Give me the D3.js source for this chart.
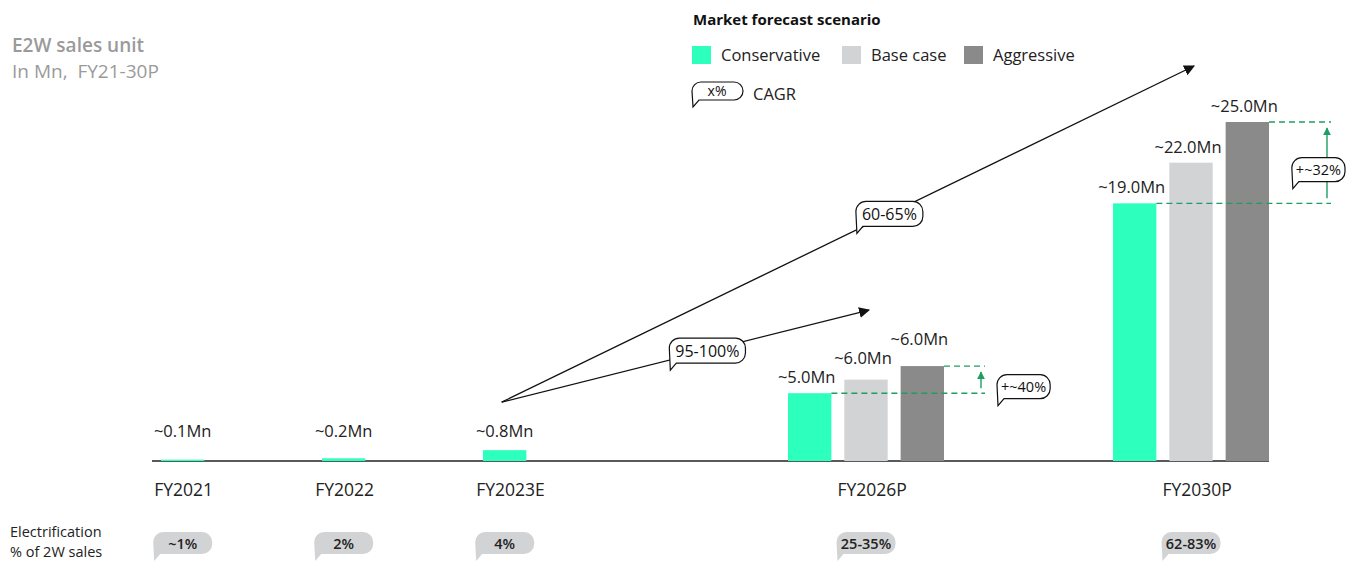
<!DOCTYPE html>
<html>
<head>
<meta charset="utf-8">
<script src="https://cdn.jsdelivr.net/npm/d3@7"></script>
<style>
  body { margin: 0; background: #fff; }
  svg { display: block; font-family: "Open Sans", sans-serif; }
</style>
</head>
<body>
<script>
// data
var categories = ["FY2021", "FY2022", "FY2023E", "FY2026P", "FY2030P"];
var fiscalYears = [2021, 2022, 2023, 2026, 2030];
var seriesNames = ["Conservative", "Base case", "Aggressive"];
var conservative = [0.1, 0.2, 0.8, 5, 19];
var baseCase = [null, null, null, 6, 22];
var aggressive = [null, null, null, 7, 25];
var conservativeLabels = ["~0.1Mn", "~0.2Mn", "~0.8Mn", "~5.0Mn", "~19.0Mn"];
var baseCaseLabels = [null, null, null, "~6.0Mn", "~22.0Mn"];
var aggressiveLabels = [null, null, null, "~6.0Mn", "~25.0Mn"];
var electrification = ["~1%", "2%", "4%", "25-35%", "62-83%"];
var cagrFrom = ["FY2023E", "FY2023E"];
var cagrTo = ["FY2026P", "FY2030P"];
var cagrLabels = ["95-100%", "60-65%"];
var upliftCats = ["FY2026P", "FY2030P"];
var upliftLabels = ["+~40%", "+~32%"];

var width = 1347, height = 561;
var colors = ["#2dffbd", "#d2d3d5", "#8a8a8a"];
var green = "#1f9e63";

var svg = d3.select("body").append("svg")
    .attr("width", width)
    .attr("height", height);

var defs = svg.append("defs");
defs.append("marker").attr("id", "blackHead")
    .attr("viewBox", "0 0 10 10").attr("refX", 9).attr("refY", 5)
    .attr("markerWidth", 11).attr("markerHeight", 11).attr("markerUnits", "userSpaceOnUse")
    .attr("orient", "auto")
  .append("path").attr("d", "M0,0L10,5L0,10Z").attr("fill", "#111");
defs.append("marker").attr("id", "greenHead")
    .attr("viewBox", "0 0 10 10").attr("refX", 9).attr("refY", 5)
    .attr("markerWidth", 8).attr("markerHeight", 8).attr("markerUnits", "userSpaceOnUse")
    .attr("orient", "auto")
  .append("path").attr("d", "M0,0L10,5L0,10Z").attr("fill", green);

// scales
var x = d3.scaleLinear()
    .domain([2021, 2023, 2026, 2030])
    .range([161, 483, 788, 1113]);
var inner = d3.scaleBand()
    .domain(seriesNames)
    .range([0, 156])
    .paddingInner(0.23);
var y = d3.scaleLinear()
    .domain([0, 25])
    .range([461, 122]);

var seriesValues = [conservative, baseCase, aggressive];
var seriesLabels = [conservativeLabels, baseCaseLabels, aggressiveLabels];

// one row per category with its bars
var groups = categories.map(function (c, i) {
  var bars = [];
  seriesNames.forEach(function (s, j) {
    var v = seriesValues[j][i];
    if (v != null) {
      bars.push({ series: s, idx: j, value: v, label: seriesLabels[j][i],
                  x0: x(fiscalYears[i]) + inner(s) });
    }
  });
  var left = bars[0].x0, right = bars[bars.length - 1].x0 + inner.bandwidth();
  return { cat: c, bars: bars, left: left, right: right, center: (left + right) / 2,
           top: d3.min(bars, function (b) { return y(b.value); }) };
});
var byCat = {};
groups.forEach(function (g) { byCat[g.cat] = g; });

// bubble with tail at bottom-left
function bubblePath(x0, y0, w, h) {
  var r = Math.min(10, h / 2), x1 = x0 + w, y1 = y0 + h;
  return "M" + x0 + "," + (y0 + r) +
    "A" + r + "," + r + " 0 0 1 " + (x0 + r) + "," + y0 +
    "H" + (x1 - r) +
    "A" + r + "," + r + " 0 0 1 " + x1 + "," + (y0 + r) +
    "V" + (y1 - r) +
    "A" + r + "," + r + " 0 0 1 " + (x1 - r) + "," + y1 +
    "H" + (x0 + 7) +
    "L" + (x0 + 1) + "," + (y1 + 7) +
    "Z";
}

// title
var title = svg.append("g").attr("fill", "#9a9a9a").style("font-size", "19px");
title.append("text").attr("x", 12).attr("y", 52).attr("font-weight", 600).text("E2W sales unit");
title.append("text").attr("x", 12).attr("y", 78).style("white-space", "pre").text("In Mn,  FY21-30P");

// legend
var legend = svg.append("g");
legend.append("text").attr("x", 693).attr("y", 25)
    .attr("font-weight", 700).style("font-size", "15px").attr("fill", "#111")
    .text("Market forecast scenario");
var legX = [692, 842, 964];
seriesNames.forEach(function (s, i) {
  legend.append("rect").attr("x", legX[i]).attr("y", 46).attr("width", 19).attr("height", 18)
      .attr("fill", colors[i]);
  legend.append("text").attr("x", legX[i] + 29).attr("y", 61)
      .style("font-size", "16.5px").attr("fill", "#222").text(s);
});
legend.append("path").attr("d", bubblePath(692, 82, 51, 18))
    .attr("fill", "#fff").attr("stroke", "#111").attr("stroke-width", 1.2);
legend.append("text").attr("x", 717).attr("y", 96).attr("text-anchor", "middle")
    .style("font-size", "14px").attr("fill", "#111").text("x%");
legend.append("text").attr("x", 753).attr("y", 100)
    .style("font-size", "16.5px").attr("fill", "#222").text("CAGR");

// axis line
svg.append("line")
    .attr("x1", 152).attr("x2", byCat["FY2030P"].right)
    .attr("y1", y(0)).attr("y2", y(0))
    .attr("stroke", "#222").attr("stroke-width", 1.5);

// bars
var gBars = svg.append("g");
groups.forEach(function (g) {
  gBars.selectAll(null)
      .data(g.bars)
      .enter().append("rect")
      .attr("x", function (d) { return d.x0; })
      .attr("y", function (d) { return y(d.value); })
      .attr("width", inner.bandwidth())
      .attr("height", function (d) { return y(0) - y(d.value); })
      .attr("fill", function (d) { return colors[d.idx]; });
  // value labels, stacked so they don't collide
  var prev = Infinity;
  g.bars.forEach(function (d) {
    var ly = Math.min(y(d.value) - 10, 437, prev - 19);
    prev = ly;
    gBars.append("text")
        .attr("x", d.x0 + inner.bandwidth() / 2 - (g.bars.length > 1 ? 3 : 0))
        .attr("y", ly)
        .attr("text-anchor", "middle")
        .style("font-size", "16.5px").attr("fill", "#222")
        .text(d.label);
  });
});

// category labels + electrification pills
var pillW = 59;
groups.forEach(function (g, i) {
  var px = g.center - pillW / 2;
  svg.append("text").attr("x", px + 1).attr("y", 496)
      .style("font-size", "17.5px").attr("fill", "#222").text(g.cat);
  svg.append("path").attr("d", bubblePath(px, 532, pillW, 22)).attr("fill", "#d2d3d5");
  svg.append("text").attr("x", g.center).attr("y", 548.5).attr("text-anchor", "middle")
      .attr("font-weight", 600).style("font-size", "14.5px").attr("fill", "#222")
      .text(electrification[i]);
});
var elec = svg.append("g").style("font-size", "14.5px").attr("fill", "#222");
elec.append("text").attr("x", 10).attr("y", 537).text("Electrification");
elec.append("text").attr("x", 10).attr("y", 557).text("% of 2W sales");

// CAGR arrows
cagrLabels.forEach(function (lab, i) {
  var a = byCat[cagrFrom[i]], b = byCat[cagrTo[i]];
  var x1 = a.center - 3, y1 = a.top - 48;
  var x2 = b.center + 3, y2 = b.top - 56;
  svg.append("line").attr("x1", x1).attr("y1", y1).attr("x2", x2).attr("y2", y2)
      .attr("stroke", "#111").attr("stroke-width", 1.3)
      .attr("marker-end", "url(#blackHead)");
  var t = 0.56, cx = x1 + (x2 - x1) * t, cy = y1 + (y2 - y1) * t;
  var txt = svg.append("text").attr("x", cx).attr("y", cy + 6).attr("text-anchor", "middle")
      .style("font-size", "16px").attr("fill", "#111").text(lab);
  var w = txt.node().getComputedTextLength() + 12, h = 25;
  svg.insert("path", function () { return txt.node(); })
      .attr("d", bubblePath(cx - w / 2, cy - h / 2, w, h))
      .attr("fill", "#fff").attr("stroke", "#111").attr("stroke-width", 1.2);
});

// uplift between conservative and aggressive
var upliftReach = [41, 62], bubbleShift = [16, -33];
upliftLabels.forEach(function (lab, i) {
  var g = byCat[upliftCats[i]];
  var cons = g.bars[0], agg = g.bars[g.bars.length - 1];
  var yLow = y(cons.value), yHigh = y(agg.value);
  var end = g.right + upliftReach[i];
  svg.append("line").attr("x1", cons.x0 + inner.bandwidth()).attr("x2", end)
      .attr("y1", yLow).attr("y2", yLow)
      .attr("stroke", green).attr("stroke-width", 1.4).attr("stroke-dasharray", "6,4");
  svg.append("line").attr("x1", g.right).attr("x2", end)
      .attr("y1", yHigh).attr("y2", yHigh)
      .attr("stroke", green).attr("stroke-width", 1.4).attr("stroke-dasharray", "6,4");
  var ax = end - 4;
  svg.append("line").attr("x1", ax).attr("x2", ax)
      .attr("y1", yLow - 5).attr("y2", yHigh + 6)
      .attr("stroke", green).attr("stroke-width", 1.4)
      .attr("marker-end", "url(#greenHead)");
  var cy = (yLow + yHigh) / 2 + 7;
  var txt = svg.append("text").style("font-size", "14.5px").attr("fill", "#111").text(lab);
  var w = txt.node().getComputedTextLength() + 8, h = 24;
  var bx = Math.min(ax + bubbleShift[i], width - 2 - w);
  txt.attr("x", bx + w / 2).attr("y", cy + 5).attr("text-anchor", "middle");
  svg.insert("path", function () { return txt.node(); })
      .attr("d", bubblePath(bx, cy - h / 2, w, h))
      .attr("fill", "#fff").attr("stroke", "#111").attr("stroke-width", 1.2);
});
</script>
</body>
</html>
